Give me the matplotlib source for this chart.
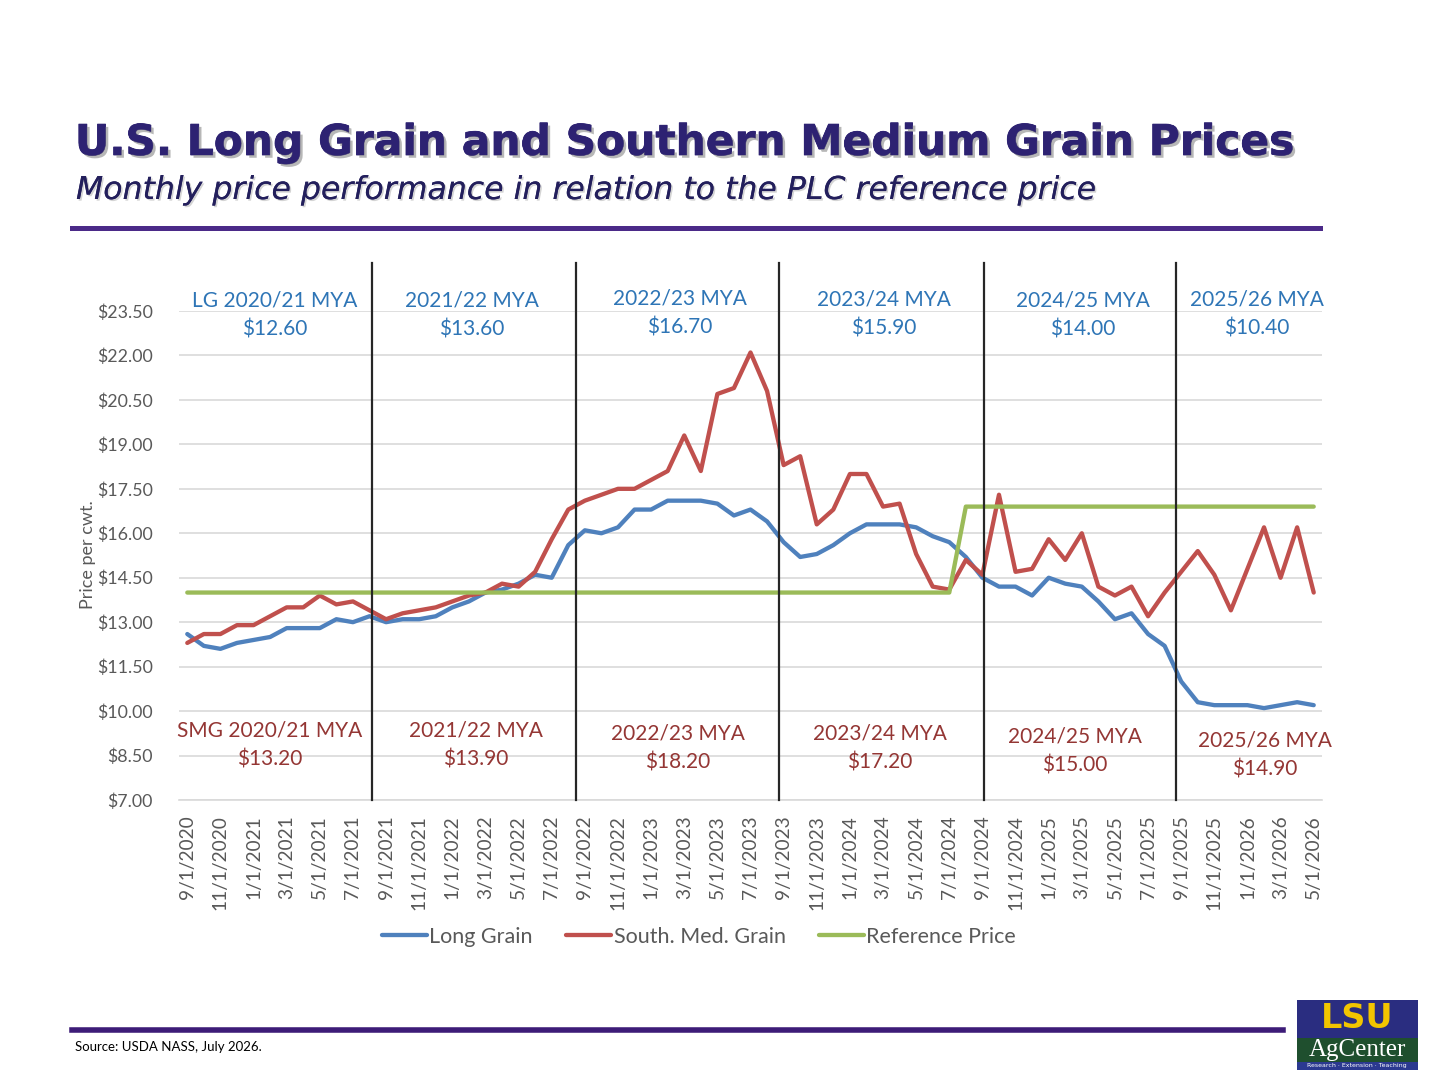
import matplotlib
matplotlib.use("Agg")
import matplotlib.pyplot as plt
import matplotlib.patheffects as pe
from matplotlib.patches import Rectangle
from matplotlib.lines import Line2D
import pandas as pd

# ---------------- data ----------------
months = pd.date_range("2020-09-01", "2026-05-01", freq="MS")
month_labels = [f"{d.month}/{d.day}/{d.year}" for d in months]

long_grain = [12.6, 12.2, 12.1, 12.3, 12.4, 12.5, 12.8, 12.8, 12.8, 13.1, 13.0, 13.2,
              13.0, 13.1, 13.1, 13.2, 13.5, 13.7, 14.0, 14.1, 14.3, 14.6, 14.5, 15.6,
              16.1, 16.0, 16.2, 16.8, 16.8, 17.1, 17.1, 17.1, 17.0, 16.6, 16.8, 16.4,
              15.7, 15.2, 15.3, 15.6, 16.0, 16.3, 16.3, 16.3, 16.2, 15.9, 15.7, 15.2,
              14.5, 14.2, 14.2, 13.9, 14.5, 14.3, 14.2, 13.7, 13.1, 13.3, 12.6, 12.2,
              11.0, 10.3, 10.2, 10.2, 10.2, 10.1, 10.2, 10.3, 10.2]

south_med_grain = [12.3, 12.6, 12.6, 12.9, 12.9, 13.2, 13.5, 13.5, 13.9, 13.6, 13.7, 13.4,
                   13.1, 13.3, 13.4, 13.5, 13.7, 13.9, 14.0, 14.3, 14.2, 14.7, 15.8, 16.8,
                   17.1, 17.3, 17.5, 17.5, 17.8, 18.1, 19.3, 18.1, 20.7, 20.9, 22.1, 20.8,
                   18.3, 18.6, 16.3, 16.8, 18.0, 18.0, 16.9, 17.0, 15.3, 14.2, 14.1, 15.1,
                   14.6, 17.3, 14.7, 14.8, 15.8, 15.1, 16.0, 14.2, 13.9, 14.2, 13.2, 14.0,
                   14.7, 15.4, 14.6, 13.4, 14.8, 16.2, 14.5, 16.2, 14.0]

reference_price = [14.0, 14.0, 14.0, 14.0, 14.0, 14.0, 14.0, 14.0, 14.0, 14.0, 14.0, 14.0,
                   14.0, 14.0, 14.0, 14.0, 14.0, 14.0, 14.0, 14.0, 14.0, 14.0, 14.0, 14.0,
                   14.0, 14.0, 14.0, 14.0, 14.0, 14.0, 14.0, 14.0, 14.0, 14.0, 14.0, 14.0,
                   14.0, 14.0, 14.0, 14.0, 14.0, 14.0, 14.0, 14.0, 14.0, 14.0, 14.0, 16.9,
                   16.9, 16.9, 16.9, 16.9, 16.9, 16.9, 16.9, 16.9, 16.9, 16.9, 16.9, 16.9,
                   16.9, 16.9, 16.9, 16.9, 16.9, 16.9, 16.9, 16.9, 16.9]

series_names = ["Long Grain", "South. Med. Grain", "Reference Price"]

y_ticks = [7.0, 8.5, 10.0, 11.5, 13.0, 14.5, 16.0, 17.5, 19.0, 20.5, 22.0, 23.5]
y_tick_labels = [f"${v:.2f}" for v in y_ticks]

# season separators (month index positions as drawn)
season_breaks = [11.15, 23.45, 35.75, 48.1, 59.7]

lg_labels = ["LG 2020/21 MYA\n$12.60", "2021/22 MYA\n$13.60", "2022/23 MYA\n$16.70",
             "2023/24 MYA\n$15.90", "2024/25 MYA\n$14.00", "2025/26 MYA\n$10.40"]
smg_labels = ["SMG 2020/21 MYA\n$13.20", "2021/22 MYA\n$13.90", "2022/23 MYA\n$18.20",
              "2023/24 MYA\n$17.20", "2024/25 MYA\n$15.00", "2025/26 MYA\n$14.90"]

title = "U.S. Long Grain and Southern Medium Grain Prices"
subtitle = "Monthly price performance in relation to the PLC reference price"
source = "Source: USDA NASS, July 2026."

# ---------------- layout helpers ----------------
W, H = 1440, 1080
fig = plt.figure(figsize=(14.4, 10.8), dpi=100)
fig.patch.set_facecolor("white")


def fx(px):
    return px / W


def fy(py):
    return 1 - py / H


FONT = "Lato"
GRAY = "#595959"
BLUE_T = "#2E75B6"
RED_T = "#943634"

# ---------------- axes ----------------
ax = fig.add_axes([fx(179), fy(800), (1322 - 179) / W, (800 - 311) / H])
x = list(range(len(month_labels)))
ax.plot(x, long_grain, color="#4F81BD", lw=3.1, solid_joinstyle="round",
        solid_capstyle="round", zorder=4, label=series_names[0])
ax.plot(x, south_med_grain, color="#C0504D", lw=3.1, solid_joinstyle="round",
        solid_capstyle="round", zorder=5, label=series_names[1])
ax.plot(x, reference_price, color="#9BBB59", lw=3.1, solid_joinstyle="round",
        solid_capstyle="round", zorder=6, label=series_names[2])

ax.set_xlim(-0.5, len(x) - 0.5)
ax.set_ylim(7, 23.5)
ax.set_yticks(y_ticks)
ax.set_yticklabels(y_tick_labels, fontfamily=FONT, fontsize=12.8, color=GRAY)
ax.set_xticks(x[::2])
ax.set_xticklabels(month_labels[::2], rotation=90, fontfamily=FONT, fontsize=13.8,
                   color=GRAY)
ax.tick_params(axis="both", length=0)
ax.tick_params(axis="y", pad=19)
ax.tick_params(axis="x", pad=11)
ax.grid(axis="y", color="#D9D9D9", lw=1.2, zorder=0)
ax.set_axisbelow(True)
for s in ["top", "right", "left"]:
    ax.spines[s].set_visible(False)
ax.spines["bottom"].set_color("#D9D9D9")
ax.spines["bottom"].set_linewidth(1.2)

for b in season_breaks:
    ax.plot([b, b], [7, 25.12], color="#262626", lw=1.6, clip_on=False, zorder=8)

fig.text(fx(88), fy(555), "Price per cwt.", rotation=90, ha="center", va="center",
         fontfamily=FONT, fontsize=13, color=GRAY)

# season annotations
lg_pos = [(275, 315), (472, 315), (680, 313), (884, 314), (1083, 315), (1257, 314)]
smg_pos = [(270, 745), (476, 745), (678, 748), (880, 748), (1075, 751), (1265, 755)]
for txt, (px, py) in zip(lg_labels, lg_pos):
    fig.text(fx(px), fy(py), txt, ha="center", va="center", fontfamily=FONT,
             fontsize=15, color=BLUE_T, linespacing=1.55)
for txt, (px, py) in zip(smg_labels, smg_pos):
    fig.text(fx(px), fy(py), txt, ha="center", va="center", fontfamily=FONT,
             fontsize=15, color=RED_T, linespacing=1.55)

# legend
handles, labels = ax.get_legend_handles_labels()
leg = fig.legend(handles, labels, loc="center", bbox_to_anchor=(fx(699), fy(937)),
                 ncol=3, frameon=False, handlelength=2.1, handletextpad=0.1,
                 columnspacing=1.55, prop={"family": FONT, "size": 15.5})
for t in leg.get_texts():
    t.set_color(GRAY)

# ---------------- title block ----------------
shadow = [pe.withSimplePatchShadow(offset=(2, -2), shadow_rgbFace="#888888", alpha=0.6)]
t1 = fig.text(fx(75), fy(155), title, ha="left", va="baseline", fontfamily="DejaVu Sans",
              fontweight="bold", fontsize=34, color="#2D2272")
t2 = fig.text(fx(76), fy(199), subtitle, ha="left", va="baseline", fontfamily="DejaVu Sans",
              fontstyle="italic", fontsize=24, color="#231F5C")

fig.canvas.draw()
r = fig.canvas.get_renderer()
for t, target in [(t1, 1222), (t2, 1021)]:
    w = t.get_window_extent(r).width
    t.set_fontsize(t.get_fontsize() * target / w)
t1.set_path_effects([pe.withStroke(linewidth=0.6, foreground="#2D2272")] + shadow)
t2.set_path_effects([pe.withSimplePatchShadow(offset=(1.2, -1.2), shadow_rgbFace="#aaaaaa",
                                              alpha=0.5), pe.Normal()])

fig.add_artist(Line2D([fx(72), fx(1320)], [fy(228), fy(228)], color="#4B2A88", lw=3.6))
fig.add_artist(Line2D([fx(72), fx(1283)], [fy(1030), fy(1030)], color="#3D1C78", lw=4))

fig.text(fx(75), fy(1047), source, ha="left", va="center", fontfamily=FONT, fontsize=9.5,
         color="black")

# ---------------- logo ----------------
fig.add_artist(Rectangle((fx(1297), fy(1038)), fx(121), 38 / H, facecolor="#2A2D80",
                         edgecolor="none"))
fig.add_artist(Rectangle((fx(1297), fy(1062)), fx(121), 24 / H, facecolor="#1F4F2E",
                         edgecolor="none"))
fig.add_artist(Rectangle((fx(1297), fy(1070)), fx(121), 8 / H, facecolor="#2B3990",
                         edgecolor="none"))
fig.text(fx(1357), fy(1019), "LSU", ha="center", va="center", fontfamily="DejaVu Sans",
         fontweight="heavy", fontsize=24, color="#F2C500")
fig.text(fx(1357), fy(1050), "AgCenter", ha="center", va="center",
         fontfamily="Liberation Serif", fontsize=18, color="white")
fig.text(fx(1357), fy(1066), "Research \u00b7 Extension \u00b7 Teaching", ha="center",
         va="center", fontfamily="DejaVu Sans", fontsize=4.5, color="white")

fig.savefig("out.png", dpi=100, facecolor="white")
